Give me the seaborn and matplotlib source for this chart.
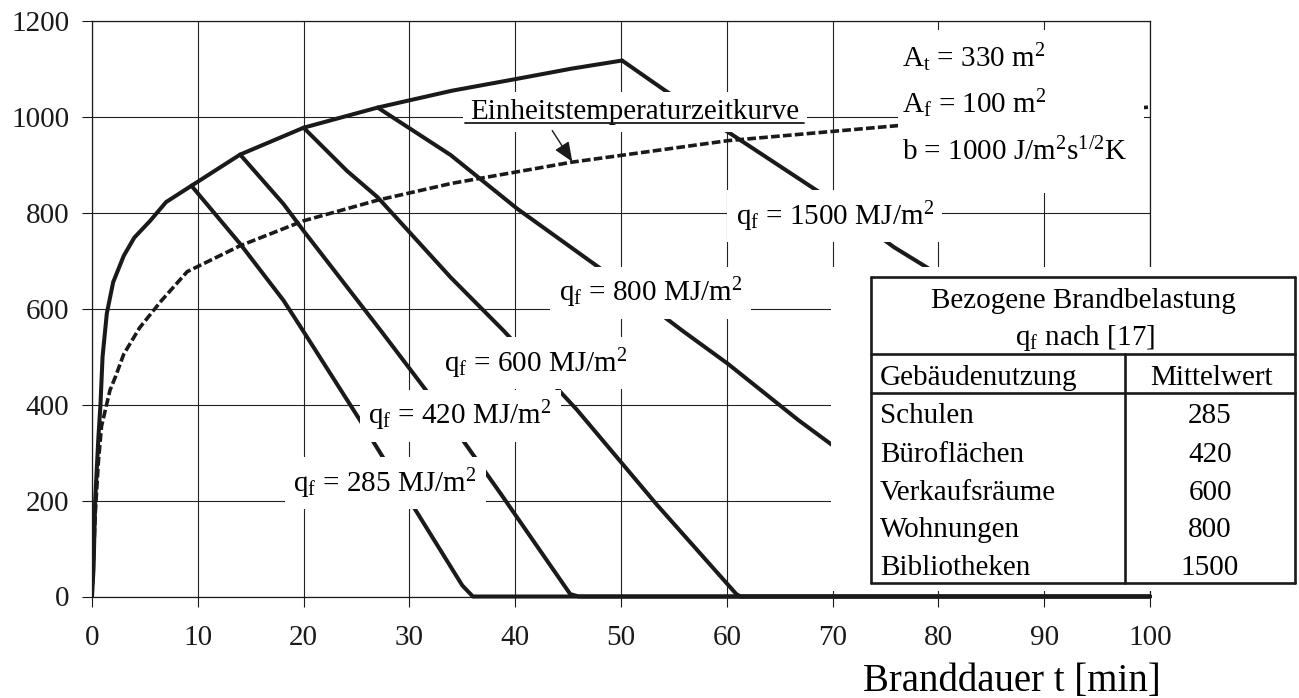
import matplotlib
matplotlib.use("Agg")
import matplotlib.pyplot as plt
from matplotlib.lines import Line2D
from matplotlib.patches import Rectangle
import seaborn as sns

# heating branch shared by all fire loads (t in min, T in degC)
heat_t = [0, 0.15, 0.3, 0.6, 0.8, 1.0, 1.4, 2.0, 3.0, 4.0, 5.5, 7.0, 9.4, 14.0, 20.0, 27.0, 34.0, 40.2, 45.3, 50.1]
heat_T = [0, 60, 200, 330, 400, 500, 590, 655, 710, 748, 783, 822, 856, 921, 977, 1019, 1054, 1079, 1100, 1117]

# cooling branches, one per fire load q_f
q285_t = [9.4, 14.0, 18.1, 20.0, 25.4, 30.5, 35.0, 36.0, 100]
q285_T = [856, 735, 617, 552, 365, 183, 23, 0, 0]
q420_t = [14.0, 18.1, 20.0, 27.3, 31.6, 35.2, 38.7, 45.2, 46.0, 100]
q420_T = [921, 818, 762, 554, 429, 321, 212, 5, 0, 0]
q600_t = [20.0, 24.1, 27.0, 33.9, 38.9, 45.8, 53.4, 60.9, 61.3, 100]
q600_T = [977, 887, 832, 665, 554, 390, 191, 5, 0, 0]
q800_t = [27.0, 33.9, 40.2, 47.9, 55.8, 60.1, 66.8, 70.0, 72.0]
q800_T = [1019, 920, 808, 686, 554, 485, 367, 315, 285]
q1500_t = [50.1, 54.2, 69.0, 75.8, 78.9, 80.0]
q1500_T = [1117, 1054, 839, 728, 686, 670]

# Einheitstemperaturzeitkurve (standard fire curve)
etk_t = [0, 0.3, 0.6, 0.9, 1.7, 2.2, 3.0, 4.5, 6.5, 9.0, 14.0, 20.0, 27.0, 34.0, 45.3, 60.1, 76.0, 100.0]
etk_T = [0, 170, 280, 355, 430, 457, 505, 560, 615, 677, 731, 783, 826, 861, 905, 950, 981, 1020]

# table of mean fire loads
usage = ["Schulen", "Büroflächen", "Verkaufsräume", "Wohnungen", "Bibliotheken"]
mean_q = [285, 420, 600, 800, 1500]

W, H = 1299, 698


def fx(px):
    return px / W


def fy(py):
    return 1 - py / H


def main():
    sns.set_theme(style="white")
    plt.rcParams["font.family"] = ["Liberation Serif", "DejaVu Serif"]
    plt.rcParams["mathtext.fontset"] = "custom"
    plt.rcParams["mathtext.rm"] = "Liberation Serif"
    plt.rcParams["mathtext.it"] = "Liberation Serif:italic"
    plt.rcParams["mathtext.bf"] = "Liberation Serif:bold"
    plt.rcParams["text.color"] = "black"
    plt.rcParams["lines.solid_joinstyle"] = "round"

    fig = plt.figure(figsize=(W / 100, H / 100), dpi=100)
    fig.patch.set_facecolor("white")
    ax = fig.add_axes([fx(92), fy(596.5), fx(1150) - fx(92), fy(20.7) - fy(596.5)])

    lw = 2.9
    sns.lineplot(x=heat_t, y=heat_T, ax=ax, color="k", lw=lw, estimator=None, sort=False)
    for t, T in [(q285_t, q285_T), (q420_t, q420_T), (q600_t, q600_T), (q800_t, q800_T), (q1500_t, q1500_T)]:
        sns.lineplot(x=t, y=T, ax=ax, color="k", lw=lw, estimator=None, sort=False, clip_on=False)
    sns.lineplot(x=etk_t, y=etk_T, ax=ax, color="k", lw=2.6, estimator=None, sort=False,
                 linestyle=(0, (2.4, 0.9)))

    ax.set_xlim(0, 100)
    ax.set_ylim(0, 1200)
    ax.set_xticks(range(0, 101, 10))
    ax.set_yticks(range(0, 1201, 200))
    ax.grid(True, color="#222222", lw=0.8)
    ax.set_axisbelow(True)
    for sp in ax.spines.values():
        sp.set_color("k")
        sp.set_linewidth(0.9)
    ax.tick_params(axis="both", bottom=True, left=True, direction="out", length=7.5, width=0.8,
                   color="k", labelsize=21, labelcolor="k")
    ax.tick_params(axis="x", pad=13)
    ax.tick_params(axis="y", pad=9)
    ax.set_xlabel("")
    ax.set_ylabel("")

    box = dict(facecolor="white", edgecolor="none", boxstyle="square,pad=0.3")
    labels = [
        (70.2, 792, "q$_\\mathrm{f}$ = 1500 MJ/m$^2$"),
        (52.8, 632, "q$_\\mathrm{f}$ = 800 MJ/m$^2$"),
        (41.9, 486, "q$_\\mathrm{f}$ = 600 MJ/m$^2$"),
        (34.8, 376, "q$_\\mathrm{f}$ = 420 MJ/m$^2$"),
        (27.7, 236, "q$_\\mathrm{f}$ = 285 MJ/m$^2$"),
    ]
    for x, y, s in labels:
        ax.text(x, y, s, ha="center", va="center", fontsize=21, bbox=box, zorder=4)

    ax.text(51.3, 1010, "Einheitstemperaturzeitkurve", ha="center", va="center", fontsize=21,
            bbox=dict(facecolor="white", edgecolor="none", boxstyle="square,pad=0.25"), zorder=4)
    ax.add_line(Line2D([35.3, 67.3], [987, 987], color="k", lw=1.3, zorder=5))
    ax.annotate("", xy=(45.4, 906), xytext=(43.5, 971),
                arrowprops=dict(arrowstyle="-|>,head_length=0.6,head_width=0.25", color="k",
                                lw=1.0, mutation_scale=20, shrinkA=0, shrinkB=0), zorder=5)

    ax.add_patch(Rectangle((76.2, 840), 23.2, 340, facecolor="white", edgecolor="none", zorder=3))
    ax.text(76.6, 1104, "A$_\\mathrm{t}$ = 330 m$^2$", ha="left", va="baseline", fontsize=21, zorder=4)
    ax.text(76.6, 1007, "A$_\\mathrm{f}$ = 100 m$^2$", ha="left", va="baseline", fontsize=21, zorder=4)
    ax.text(76.6, 909, "b = 1000 J/m$^2$s$^{1/2}$K", ha="left", va="baseline", fontsize=21, zorder=4)

    # white area under the table
    fig.add_artist(Rectangle((fx(830.5), fy(591)), fx(1299) - fx(830.5), fy(267) - fy(591),
                             transform=fig.transFigure, facecolor="white", edgecolor="none", zorder=5))
    tl = 1.9
    left, right, top, bottom = 871, 1295, 277, 583
    for xs, ys in [
        ([left, right], [top, top]),
        ([left, right], [bottom, bottom]),
        ([left, left], [top, bottom]),
        ([right, right], [top, bottom]),
        ([left, right], [354, 354]),
        ([left, right], [393, 393]),
        ([1125, 1125], [354, bottom]),
    ]:
        fig.add_artist(Line2D([fx(v) for v in xs], [fy(v) for v in ys], transform=fig.transFigure,
                              color="k", lw=tl, zorder=6))

    fig.text(fx(1083), fy(308), "Bezogene Brandbelastung", ha="center", va="baseline", fontsize=21, zorder=7)
    fig.text(fx(1085), fy(345), "q$_\\mathrm{f}$ nach [17]", ha="center", va="baseline", fontsize=21, zorder=7)
    fig.text(fx(880), fy(385), "Gebäudenutzung", ha="left", va="baseline", fontsize=21, zorder=7)
    fig.text(fx(1211), fy(385), "Mittelwert", ha="center", va="baseline", fontsize=21, zorder=7)
    row_base = [423, 461.5, 500, 537, 575]
    for name, val, yb in zip(usage, mean_q, row_base):
        fig.text(fx(880), fy(yb), name, ha="left", va="baseline", fontsize=21, zorder=7)
        fig.text(fx(1210), fy(yb), str(val), ha="center", va="baseline", fontsize=21, zorder=7)

    fig.text(fx(1161), fy(691), "Branddauer t [min]", ha="right", va="baseline", fontsize=28)

    fig.savefig("out.png", dpi=100)
    plt.close(fig)


if __name__ == "__main__":
    main()
